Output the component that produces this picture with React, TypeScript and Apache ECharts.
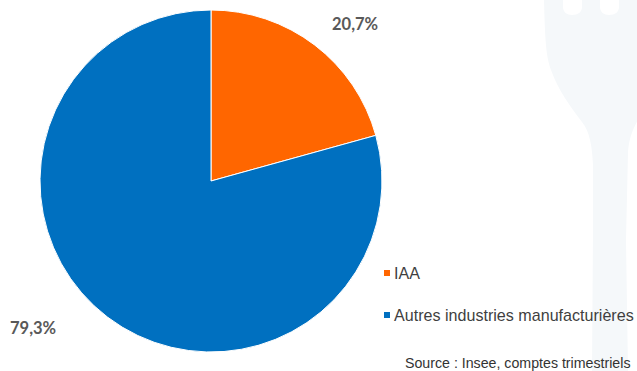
import React, { useEffect, useRef } from "react";
import * as echarts from "echarts";

const categories = ["IAA", "Autres industries manufacturières"];
const shares = [20.7, 79.3];
const shareLabels = ["20,7%", "79,3%"];
const sliceColors = ["#ff6600", "#0070c0"];
const sourceNote = "Source : Insee, comptes trimestriels";

// Pale fork watermark behind the chart, cut off by the page's top and right edges.
const FORK_PATH =
  "M544 0 L563 0 L563 7 C563 12 567 15 572 15 C578 15 582 12 582 7 L582 0 L600 0 L600 7 C600 12 604 15 609 15 C615 15 619 12 619 7 L619 0 L640 0 L640 116 C633 128 629 138 628 152 L626 240 L628 371 L592 371 L593 230 L593 165 C592 146 590 132 582 122 C570 106 558 90 551 70 C546 56 545 40 544 0 Z";

export default function App() {
  const ref = useRef<HTMLDivElement>(null);

  useEffect(() => {
    echarts.graphic.registerShape("forkMark", echarts.graphic.extendPath(FORK_PATH, {}) as any);
    const chart = echarts.init(ref.current!, null, { renderer: "svg" });
    chart.setOption({
      animation: false,
      backgroundColor: "#ffffff",
      color: sliceColors,
      graphic: [
        { type: "forkMark", x: 0, y: 0, z: -10, silent: true, style: { fill: "#f5f8fa" } },
        {
          type: "text",
          x: 405,
          y: 356,
          style: {
            text: sourceNote,
            fill: "#333333",
            font: '14.2px "Liberation Sans"',
          },
        },
      ],
      legend: {
        left: 377,
        top: 260,
        orient: "vertical",
        itemWidth: 8,
        itemHeight: 8,
        itemGap: 26,
        icon: "rect",
        data: categories,
        textStyle: {
          color: "#3f3f3f",
          fontFamily: "Liberation Sans",
          fontSize: 16.1,
          padding: [0, 0, 0, -2],
        },
      },
      series: [
        {
          type: "pie",
          center: [211, 181],
          radius: [0, 171],
          startAngle: 90,
          clockwise: true,
          itemStyle: { borderColor: "#ffffff", borderWidth: 1 },
          data: categories.map((name, i) => ({
            name,
            value: shares[i],
            label: { formatter: shareLabels[i] },
          })),
          labelLayout: (params: any) =>
            params.dataIndex === 0
              ? { x: 332, y: 24, align: "left", verticalAlign: "middle" }
              : { x: 10, y: 328, align: "left", verticalAlign: "middle" },
          label: {
            show: true,
            position: "outside",
            color: "#595959",
            fontFamily: "Lato",
            fontWeight: "bold",
            fontSize: 16.5,
          },
          labelLine: { show: false },
          emphasis: { disabled: true },
        },
      ],
    });
    return () => chart.dispose();
  }, []);

  return <div ref={ref} style={{ position: "absolute", left: 0, top: 0, width: 637, height: 371 }} />;
}
